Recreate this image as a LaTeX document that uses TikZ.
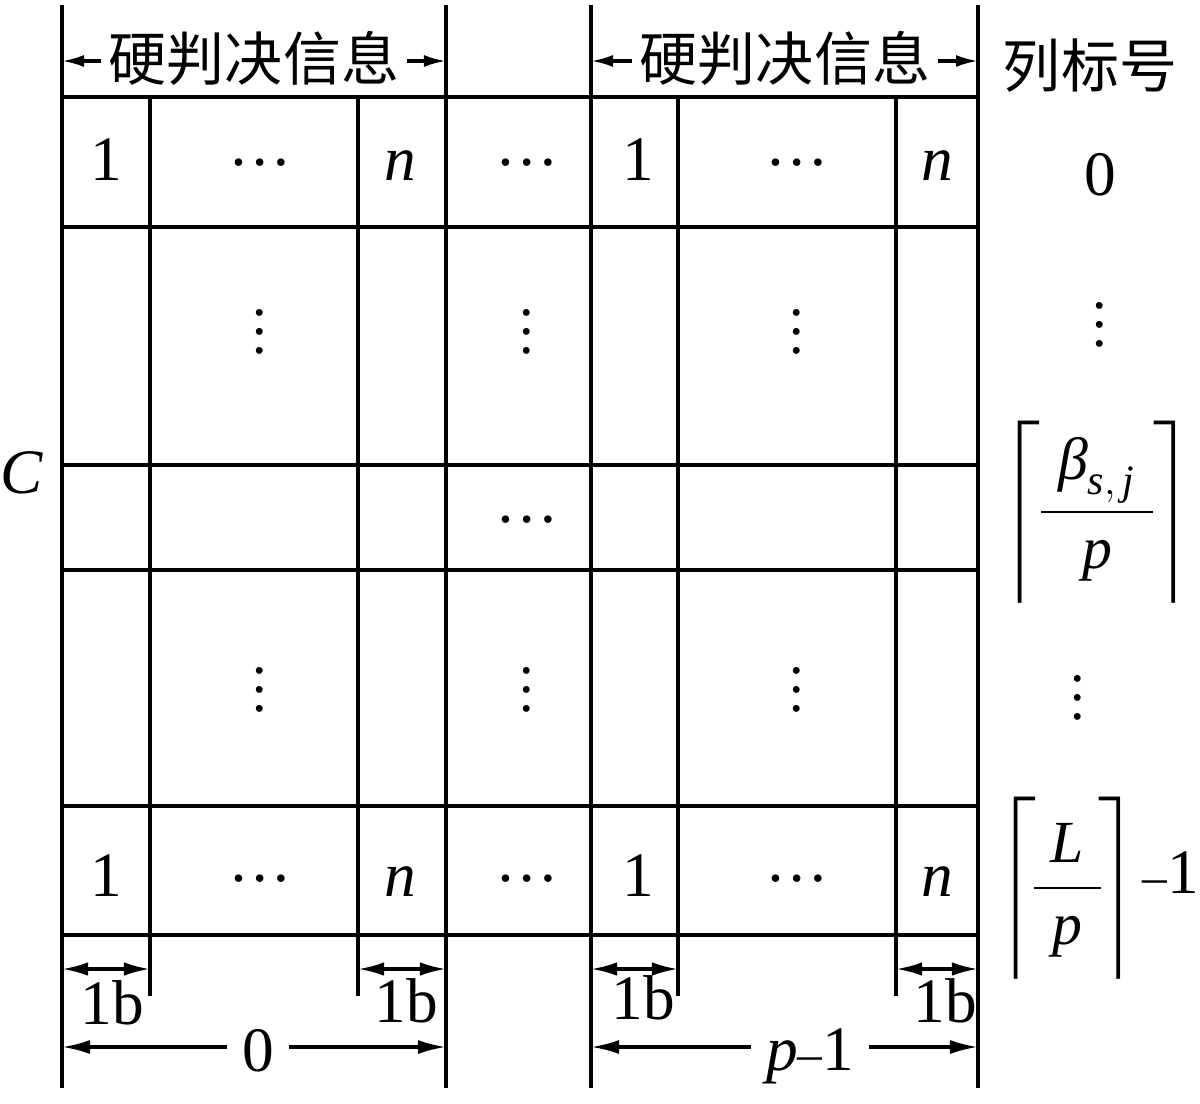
\documentclass[tikz,border=0pt]{standalone}
\usepackage{amsmath}
\usepackage{fontspec}
\setmainfont{Liberation Serif}
\newfontfamily\cjk{Noto Sans CJK SC}
\usetikzlibrary{arrows.meta}
\newcommand{\hdt}{\raisebox{4pt}{…}}
\newcommand{\vdt}{\vbox{\baselineskip=5.4pt\lineskiplimit=0pt\hbox{.}\hbox{.}\hbox{.}}}
\newcommand{\mi}[1]{\textit{#1}}
\newcommand{\mn}{{\fontsize{14}{16}\selectfont–}}

\begin{document}
\begin{tikzpicture}[x=0.01cm,y=-0.01cm,
  frame/.style={line width=1.3pt},
  sep/.style={line width=1pt},
  ext/.style={line width=0.9pt},
  head/.style={ext,-{Latex[length=2.2mm,width=1.2mm]}},
  one/.style={ext,-{Latex[length=2.8mm,width=1.4mm]}},
  both/.style={ext,{Latex[length=2.6mm,width=1.35mm]}-{Latex[length=2.6mm,width=1.35mm]}},
  txt/.style={inner sep=0pt,font=\fontsize{18}{22}\selectfont},
  frac/.style={inner sep=0pt,font=\fontsize{17}{21}\selectfont},
  dots/.style={inner sep=0pt,font=\fontsize{16.5}{20}\selectfont},
  zh/.style={inner ysep=0pt,inner xsep=2pt,font=\cjk\fontsize{16.5}{20}\selectfont}]
\useasboundingbox (0,0) rectangle (1200,1103);
% extension lines
\foreach \x/\n in {62/ga,446/gb,591/gc,978/gd} {
  \coordinate (\n) at (\x,5);
  \draw[ext] (\n) -- (\x,1088);}
\foreach \x/\n in {150/sa,358/sb,678/sc,896/sd} {
  \coordinate (\n) at (\x,935);
  \draw[ext] (\n) -- (\x,996);}
% table
\foreach \y in {227,465,570,806}
  \draw[frame] (62,\y) -- (978,\y);
\foreach \x in {150,358,446,591,678,896}
  \draw[sep] (\x,97) -- (\x,935);
\draw[frame] (62,97) rectangle (978,935);
% cells
\foreach \x/\t in {106/1,260/\hdt,400/\mi{n},527/\hdt,638/1,797/\hdt,937/\mi{n}} {
  \node[txt,anchor=base] (top\x) at (\x,180) {\t};
  \node[txt,anchor=base] (bot\x) at (\x,896) {\t};}
\foreach \x in {260,527,797} {
  \node[dots] (va\x) at (\x,332) {\vdt};
  \node[dots] (vb\x) at (\x,690) {\vdt};}
\node[txt,anchor=base] (mid) at (527,537) {\hdt};
\node[txt] (lc) at (22,473) {\mi{C}};
% headings
\node[zh] (hd1) at (254,58) {硬判决信息};
\node[zh] (hd2) at (785,58) {硬判决信息};
\draw[head] (hd1.west |- 0,61) -- (ga |- 0,61);
\draw[head] (hd1.east |- 0,61) -- (gb |- 0,61);
\draw[head] (hd2.west |- 0,61) -- (gc |- 0,61);
\draw[head] (hd2.east |- 0,61) -- (gd |- 0,61);
% column index
\node[zh] (colhd) at (1090,66) {列标号};
\node[txt] (ci0) at (1100,175) {0};
\node[dots] (cv1) at (1100,325) {\vdt};
\node[frac] (cib) at (1097,512)
  {$\delimiterfactor=1000\delimitershortfall=0pt
   \left\lceil\mkern-1mu\vrule height 30pt depth 21.5pt width 0pt
   \dfrac{\;\mi{β}_{\mi{s},\,\mi{j}}\;}{\mi{p}}\mkern-1mu\right\rceil$};
\node[dots] (cv2) at (1078,698) {\vdt};
\node[frac,anchor=west] (cil) at (997,888)
  {$\delimiterfactor=1000\delimitershortfall=0pt
   \left\lceil\mkern-2mu\vrule height 29pt depth 21.5pt width 0pt
   \dfrac{\;\mi{L}\;}{\mi{p}}\mkern-2mu\right\rceil$};
\node[txt,anchor=base west] (cim) at (1142,893) {\mn1};
% widths
\draw[both] (ga |- 0,969) -- (sa |- 0,969);
\draw[both] (sb |- 0,969) -- (gb |- 0,969);
\draw[both] (gc |- 0,969) -- (sc |- 0,969);
\draw[both] (sd |- 0,969) -- (gd |- 0,969);
\node[txt,anchor=base] (w1) at (112,1024) {1b};
\node[txt,anchor=base] (w2) at (406,1022) {1b};
\node[txt,anchor=base] (w3) at (643,1019) {1b};
\node[txt,anchor=base] (w4) at (945,1022) {1b};
\node[txt,anchor=base,inner xsep=4pt] (sp0) at (258,1071) {0};
\node[txt,anchor=base,inner xsep=4pt] (sp1) at (810,1070) {\mi{p}\mn1};
\draw[one] (sp0.west |- 0,1047) -- (ga |- 0,1047);
\draw[one] (sp0.east |- 0,1047) -- (gb |- 0,1047);
\draw[one] (sp1.west |- 0,1047) -- (gc |- 0,1047);
\draw[one] (sp1.east |- 0,1047) -- (gd |- 0,1047);
\end{tikzpicture}
\end{document}
